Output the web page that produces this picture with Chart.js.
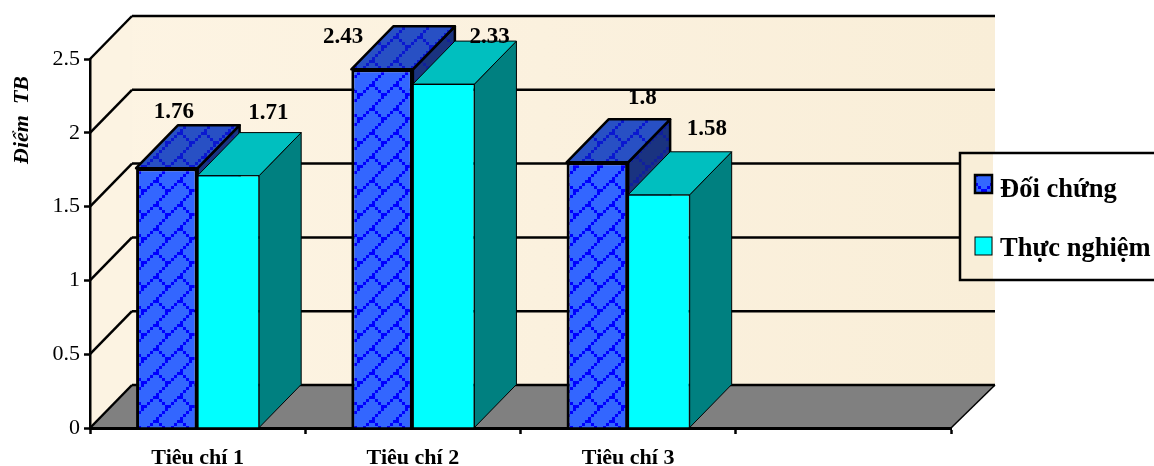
<!DOCTYPE html>
<html>
<head>
<meta charset="utf-8">
<script src="https://cdn.jsdelivr.net/npm/chart.js@4/dist/chart.umd.min.js"></script>
<style>
  html, body { margin: 0; padding: 0; background: #fff; }
  canvas { display: block; }
</style>
</head>
<body>
<canvas id="chart" width="1154" height="466"></canvas>
<script>
const categories = ["Tiêu chí 1", "Tiêu chí 2", "Tiêu chí 3", ""]
const doiChung = [1.76, 2.43, 1.8, null]
const thucNghiem = [1.71, 2.33, 1.58, null]
const seriesNames = ["Đối chứng", "Thực nghiệm"]
const yTitle = "Điểm  TB"
// hand placed labels in the original, shift from the back top centre of each bar
const labelShift = [
  [[-14, -13], [-60, 11], [24, -21]],
  [[19, -20], [25, -4], [27, -23]]
]

const depthX = 42
const depthY = 43
const serif = "'Liberation Serif', 'Times New Roman', serif"

// excel "diagonal brick" bitmap, 8x8 blown up to a 24px tile
const brickRows = [0x01, 0x02, 0x04, 0x08, 0x18, 0x24, 0x42, 0x81]
function brick(bg, fg) {
  const c = document.createElement("canvas")
  c.width = c.height = 24
  const g = c.getContext("2d")
  g.fillStyle = bg
  g.fillRect(0, 0, 24, 24)
  g.fillStyle = fg
  brickRows.forEach((row, y) => {
    for (let x = 0; x < 8; x++) {
      if (row & (1 << x)) g.fillRect((7 - x) * 3, y * 3, 3, 3)
    }
  })
  return document.createElement("canvas").getContext("2d").createPattern(c, "repeat")
}

const blueFront = brick("#3366ff", "#0000ff")
const blueTop = brick("#2850c4", "#0a18d0")
const blueSide = brick("#1a3380", "#10209c")

function poly(ctx, pts, fill, stroke, width) {
  ctx.beginPath()
  pts.forEach((p, i) => i ? ctx.lineTo(p[0], p[1]) : ctx.moveTo(p[0], p[1]))
  ctx.closePath()
  if (fill) { ctx.fillStyle = fill; ctx.fill() }
  if (stroke) { ctx.strokeStyle = stroke; ctx.lineWidth = width; ctx.lineJoin = "round"; ctx.stroke() }
}

function line(ctx, x0, y0, x1, y1, width) {
  ctx.beginPath()
  ctx.moveTo(x0, y0)
  ctx.lineTo(x1, y1)
  ctx.strokeStyle = "#000"
  ctx.lineWidth = width
  ctx.stroke()
}

const box3d = {
  id: "box3d",
  beforeDraw(chart) {
    const { ctx, chartArea: a, scales: { y } } = chart
    const right = a.right + depthX + 2
    ctx.save()
    // walls
    const wall = ctx.createLinearGradient(a.left, 0, right, 0)
    wall.addColorStop(0, "#fdf4e3")
    wall.addColorStop(0.5, "#fbf1de")
    wall.addColorStop(1, "#f9eed8")
    ctx.fillStyle = wall
    ctx.fillRect(a.left + depthX, a.top - depthY, right - a.left - depthX, a.bottom - a.top)
    poly(ctx, [[a.left, a.top], [a.left + depthX, a.top - depthY], [a.left + depthX, a.bottom - depthY], [a.left, a.bottom]], "#fcf3e2")
    // floor
    poly(ctx, [[a.left, a.bottom], [a.left + depthX, a.bottom - depthY], [right, a.bottom - depthY], [a.right, a.bottom]], "#808080")
    line(ctx, a.right, a.bottom, right, a.bottom - depthY, 1.5)
    // grid, back wall plus left wall diagonal
    y.ticks.forEach(t => {
      const py = y.getPixelForValue(t.value)
      line(ctx, a.left, py, a.left + depthX, py - depthY, 2.5)
      line(ctx, a.left + depthX, py - depthY, right, py - depthY, 2.5)
    })
    ctx.restore()
  },
  beforeDatasetsDraw(chart) {
    const { ctx } = chart
    ctx.save()
    chart.data.datasets.forEach((ds, d) => {
      const top = d ? "#00bfbf" : blueTop
      const side = d ? "#008080" : blueSide
      const width = d ? 1 : 2.5
      chart.getDatasetMeta(d).data.forEach((bar, i) => {
        if (ds.data[i] == null) return
        const l = bar.x - bar.width / 2, r = bar.x + bar.width / 2, t = bar.y, b = bar.base
        poly(ctx, [[r, t], [r + depthX, t - depthY], [r + depthX, b - depthY], [r, b]], side, "#000", width)
        poly(ctx, [[l, t], [l + depthX, t - depthY], [r + depthX, t - depthY], [r, t]], top, "#000", width)
      })
    })
    ctx.restore()
  },
  afterDatasetsDraw(chart) {
    const { ctx, chartArea: a } = chart
    ctx.save()
    ctx.fillStyle = "#000"
    ctx.textAlign = "center"
    ctx.textBaseline = "middle"
    ctx.font = "bold 23px " + serif
    chart.data.datasets.forEach((ds, d) => {
      chart.getDatasetMeta(d).data.forEach((bar, i) => {
        if (ds.data[i] == null) return
        const s = labelShift[d][i]
        ctx.fillText(String(ds.data[i]), bar.x + depthX / 2 + s[0], bar.y - depthY + s[1])
      })
    })
    ctx.save()
    ctx.translate(22, 120)
    ctx.rotate(-Math.PI / 2)
    ctx.font = "italic bold 22px " + serif
    ctx.fillText(yTitle, 0, 0)
    ctx.restore()

    // legend frame sits on the wall, the wall picture carries on under it
    const right = a.right + depthX + 2
    const fx = 960, fy = 153, fb = 280
    ctx.fillStyle = "#f9eed8"
    ctx.fillRect(fx, fy, right - 2 - fx, fb - fy)
    ctx.fillStyle = "#fff"
    ctx.fillRect(right - 2, fy, 1156 - right, fb - fy)
    ctx.strokeStyle = "#000"
    ctx.lineWidth = 2.5
    ctx.strokeRect(fx, fy, 1160 - fx, fb - fy)

    ctx.textAlign = "left"
    ctx.font = "bold 26.5px " + serif
    chart.data.datasets.forEach((ds, d) => {
      const ly = d ? 237 : 175
      ctx.fillStyle = ds.backgroundColor
      ctx.fillRect(975, ly, 17, 18)
      ctx.strokeStyle = "#000"
      ctx.lineWidth = d ? 1 : 2.5
      ctx.strokeRect(975, ly, 17, 18)
      ctx.fillStyle = "#000"
      ctx.fillText(ds.label, 1000, d ? ly + 12 : ly + 15)
    })
    ctx.restore()
  }
}

new Chart(document.getElementById("chart"), {
  type: "bar",
  data: {
    labels: categories,
    datasets: [
      { label: seriesNames[0], data: doiChung, backgroundColor: blueFront, borderColor: "#000", borderWidth: 3 },
      { label: seriesNames[1], data: thucNghiem, backgroundColor: "#00ffff", borderColor: "#000", borderWidth: 1 }
    ]
  },
  plugins: [box3d],
  options: {
    responsive: false,
    animation: false,
    layout: { padding: { top: 59, right: 203, left: 0, bottom: 0 } },
    barPercentage: 1,
    categoryPercentage: 0.572,
    plugins: {
      tooltip: { enabled: false },
      title: { display: false },
      legend: { display: false }
    },
    scales: {
      x: {
        afterFit(s) { s.height = 38 },
        grid: { offset: true, drawOnChartArea: false, tickLength: 6, tickColor: "#000", tickWidth: 2.5 },
        border: { color: "#000", width: 3 },
        ticks: { color: "#000", padding: 11, maxRotation: 0, autoSkip: false, font: { family: serif, size: 22, weight: "bold" } }
      },
      y: {
        min: 0,
        max: 2.5,
        afterFit(s) { s.width = 90 },
        grid: { drawOnChartArea: false, tickLength: 6, tickColor: "#000", tickWidth: 2.5 },
        border: { color: "#000", width: 2.5 },
        ticks: { stepSize: 0.5, color: "#000", padding: 4, callback: v => String(v), font: { family: serif, size: 22 } }
      }
    }
  }
})
</script>
</body>
</html>
